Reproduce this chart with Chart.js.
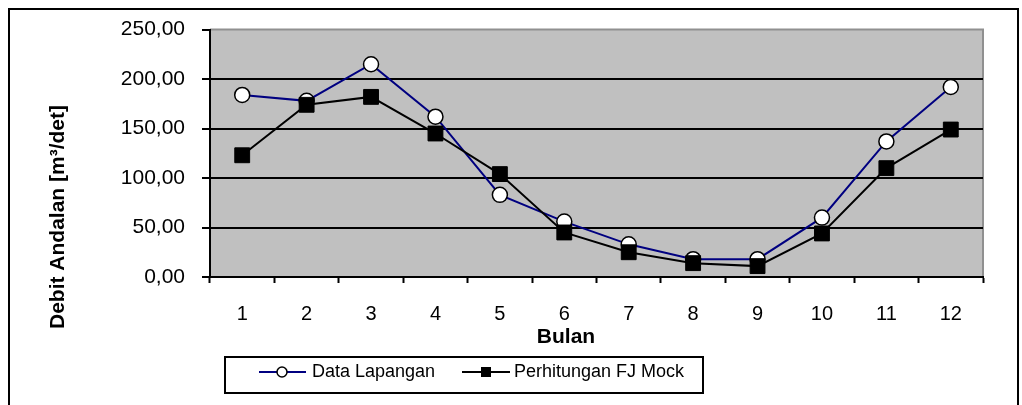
<!DOCTYPE html>
<html>
<head>
<meta charset="utf-8">
<script src="https://cdn.jsdelivr.net/npm/chart.js@4.4.1/dist/chart.umd.min.js"></script>
<style>
  html, body { margin: 0; padding: 0; background: #fff; }
  #wrap { width: 1022px; height: 405px; }
</style>
</head>
<body>
<div id="wrap"><canvas id="chart" width="1022" height="405"></canvas></div>
<script>
// data
const months = ['1', '2', '3', '4', '5', '6', '7', '8', '9', '10', '11', '12'];
const dataLapangan = [184, 178, 215, 162, 83, 56, 33, 18, 18, 60, 137, 192];
const fjMock = [123, 174, 182, 145, 104, 45, 25, 14, 11, 44, 110, 149];
const yTickLabels = ['0,00', '50,00', '100,00', '150,00', '200,00', '250,00'];

const FONT = '"Liberation Sans", Arial, sans-serif';

// gray plot background + outer frame + axis titles + legend
const decor = {
    id: 'decor',
    beforeDraw(chart) {
        const { ctx, chartArea: a } = chart;
        ctx.save();
        ctx.fillStyle = '#c0c0c0';
        ctx.fillRect(a.left, a.top, a.right - a.left, a.bottom - a.top);
        ctx.strokeStyle = '#909090';
        ctx.lineWidth = 2;
        ctx.beginPath();
        ctx.moveTo(a.left, a.top);
        ctx.lineTo(a.right, a.top);
        ctx.lineTo(a.right, a.bottom);
        ctx.stroke();
        ctx.restore();
    },
    afterDraw(chart) {
        const ctx = chart.ctx;
        ctx.save();

        // outer frame (bottom edge runs off the picture)
        ctx.strokeStyle = '#000';
        ctx.lineWidth = 2;
        ctx.beginPath();
        ctx.moveTo(9, 420);
        ctx.lineTo(9, 9);
        ctx.lineTo(1018, 9);
        ctx.lineTo(1018, 420);
        ctx.stroke();

        // axis titles
        ctx.fillStyle = '#000';
        ctx.font = 'bold 21px ' + FONT;
        ctx.textAlign = 'center';
        ctx.textBaseline = 'middle';
        ctx.fillText('Bulan', 566, 337);

        ctx.save();
        ctx.translate(58, 217);
        ctx.rotate(-Math.PI / 2);
        ctx.fillText('Debit Andalan [m\u00B3/det]', 0, 0);
        ctx.restore();

        // legend box
        ctx.lineWidth = 2;
        ctx.strokeRect(225, 357, 478, 36);

        const ly = 372;
        ctx.font = '18px ' + FONT;
        ctx.textAlign = 'left';

        // Data Lapangan sample
        ctx.strokeStyle = '#000080';
        ctx.lineWidth = 2;
        ctx.beginPath();
        ctx.moveTo(259, ly);
        ctx.lineTo(306, ly);
        ctx.stroke();
        ctx.beginPath();
        ctx.arc(282, ly, 5, 0, Math.PI * 2);
        ctx.fillStyle = '#fff';
        ctx.fill();
        ctx.strokeStyle = '#000';
        ctx.lineWidth = 1.5;
        ctx.stroke();
        ctx.fillStyle = '#000';
        ctx.fillText('Data Lapangan', 312, ly);

        // FJ Mock sample
        ctx.strokeStyle = '#000';
        ctx.lineWidth = 2;
        ctx.beginPath();
        ctx.moveTo(462, ly);
        ctx.lineTo(510, ly);
        ctx.stroke();
        ctx.fillRect(481, ly - 5, 10, 10);
        ctx.fillText('Perhitungan FJ Mock', 514, ly);

        ctx.restore();
    }
};

new Chart(document.getElementById('chart'), {
    type: 'line',
    data: {
        labels: months,
        datasets: [
            {
                label: 'Data Lapangan',
                data: dataLapangan,
                order: 2,
                borderColor: '#000080',
                borderWidth: 2,
                tension: 0,
                pointStyle: 'circle',
                pointRadius: 7.5,
                pointBackgroundColor: '#fff',
                pointBorderColor: '#000',
                pointBorderWidth: 1.5
            },
            {
                label: 'Perhitungan FJ Mock',
                data: fjMock,
                order: 1,
                borderColor: '#000',
                borderWidth: 2,
                tension: 0,
                pointStyle: 'rect',
                pointRadius: 10.5,
                pointBackgroundColor: '#000',
                pointBorderColor: '#000',
                pointBorderWidth: 1
            }
        ]
    },
    options: {
        responsive: false,
        animation: false,
        layout: { padding: { top: 29, right: 39, left: 0, bottom: 0 } },
        plugins: {
            legend: { display: false },
            title: { display: false },
            tooltip: { enabled: false }
        },
        scales: {
            x: {
                offset: true,
                afterFit(scale) { scale.height = 128; },
                grid: {
                    offset: true,
                    drawOnChartArea: false,
                    drawTicks: true,
                    tickLength: 6,
                    tickColor: '#000',
                    tickWidth: 2
                },
                border: { display: true, color: '#000', width: 2 },
                ticks: {
                    color: '#000',
                    padding: 19,
                    font: { family: FONT, size: 20 }
                }
            },
            y: {
                min: 0,
                max: 250,
                afterFit(scale) { scale.width = 210; },
                ticks: {
                    stepSize: 50,
                    color: '#000',
                    padding: 17,
                    font: { family: FONT, size: 21 },
                    callback: (v, i) => yTickLabels[i]
                },
                grid: {
                    color: ctx => (ctx.tick && ctx.tick.value > 0 && ctx.tick.value < 250) ? '#000' : 'rgba(0,0,0,0)',
                    lineWidth: 2,
                    drawTicks: true,
                    tickLength: 8,
                    tickColor: '#000',
                    tickWidth: 2
                },
                border: { display: true, color: '#000', width: 2 }
            }
        }
    },
    plugins: [decor]
});
</script>
</body>
</html>
